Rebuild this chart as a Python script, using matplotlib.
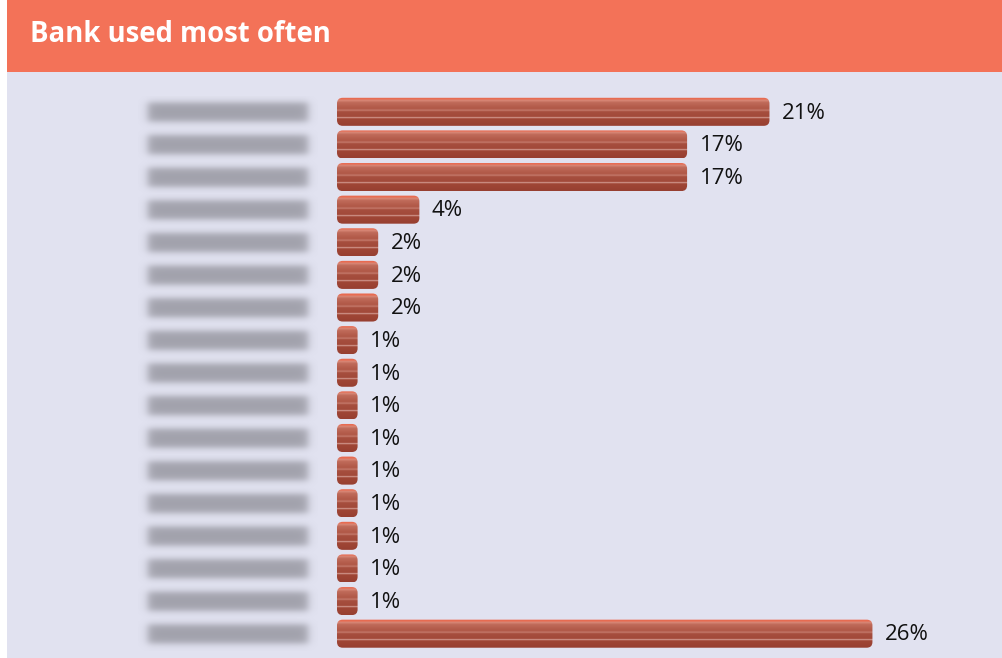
import numpy as np
import matplotlib.pyplot as plt
from matplotlib.patches import FancyBboxPatch, Rectangle
from matplotlib.colors import to_rgb

shares = [21, 17, 17, 4, 2, 2, 2, 1, 1, 1, 1, 1, 1, 1, 1, 1, 26]
value_labels = [f"{v}%" for v in shares]
title = "Bank used most often"

W, H = 1003, 658
fig = plt.figure(figsize=(W / 100, H / 100), dpi=100)

# panel + header band
fig.patches.append(Rectangle((7 / W, 0), 1 - 7 / W, 1 - 72 / H, transform=fig.transFigure,
                             facecolor='#E1E2F0', edgecolor='none', zorder=-5))
fig.patches.append(Rectangle((7 / W, 1 - 72 / H), 1 - 7 / W, 72 / H, transform=fig.transFigure,
                             facecolor='#F37258', edgecolor='none', zorder=-5))
fig.text(30 / W, 1 - 34 / H, title, color='white', fontsize=19.8, fontweight='bold',
         va='center', ha='left', family=['Open Sans', 'DejaVu Sans'])

ax = fig.add_axes([337 / W, (H - 650) / H, (996 - 337) / W, (650 - 95.5) / H])
ax.set_facecolor('none')
ax.axis('off')

# vertical shading used inside every bar (top -> bottom)
stops = [0.0, 0.07, 0.10, 0.18, 0.40, 0.46, 0.50, 0.68, 0.71, 0.75, 1.0]
cols = ['#EB6B50', '#E66C53', '#DA8B7A', '#C06B5A', '#AF5746', '#C67C6E',
        '#A64E3E', '#A24A3A', '#DAA69D', '#A04636', '#973F31']
rgb = np.array([to_rgb(c) for c in cols])
t = np.linspace(0, 1, 60)
grad = np.stack([np.interp(t, stops, rgb[:, k]) for k in range(3)], axis=-1)[:, None, :]

bars = ax.barh(range(len(shares)), shares, height=0.86, color='none')
for bar, lab in zip(bars, value_labels):
    x, y = bar.get_x(), bar.get_y()
    w, h = bar.get_width(), bar.get_height()
    clip = FancyBboxPatch((x, y), w, h, boxstyle="round,pad=0,rounding_size=0.28",
                          mutation_aspect=0.63, facecolor='none', edgecolor='none')
    ax.add_patch(clip)
    im = ax.imshow(grad, extent=(x, x + w, y + h, y), aspect='auto', interpolation='bilinear')
    im.set_clip_path(clip)
    ax.text(x + w + 0.6, y + h / 2 + 0.04, lab, va='center', ha='left', fontsize=16,
            color='#111111', family=['Open Sans', 'DejaVu Sans'])

# blurred category names
px_per_x = (996 - 337) / 32
px_per_row = (650 - 95.5) / 17
xs = np.arange(138, 318) + 0.5
ys = np.arange(96, 651) + 0.5
X, Y = np.meshgrid(xs, ys)
row_c = 112 + px_per_row * np.arange(len(shares))
dy = np.min(np.abs(Y[..., None] - row_c), axis=-1)
sig = lambda v: 1 / (1 + np.exp(-v))
alpha = sig((X - 148) / 2.5) * sig((308 - X) / 2.5) * sig((9.5 - dy) / 2.0)
blob = np.zeros(X.shape + (4,))
blob[..., :3] = to_rgb('#9E9EA8')
blob[..., 3] = alpha * 0.95
ax.imshow(blob, extent=((138 - 337) / px_per_x, (318 - 337) / px_per_x,
                        (651 - 112) / px_per_row, (96 - 112) / px_per_row),
          aspect='auto', interpolation='bilinear', clip_on=False)

ax.set_xlim(0, 32)
ax.set_ylim(16.5, -0.5)

fig.savefig('out.png', dpi=100)
